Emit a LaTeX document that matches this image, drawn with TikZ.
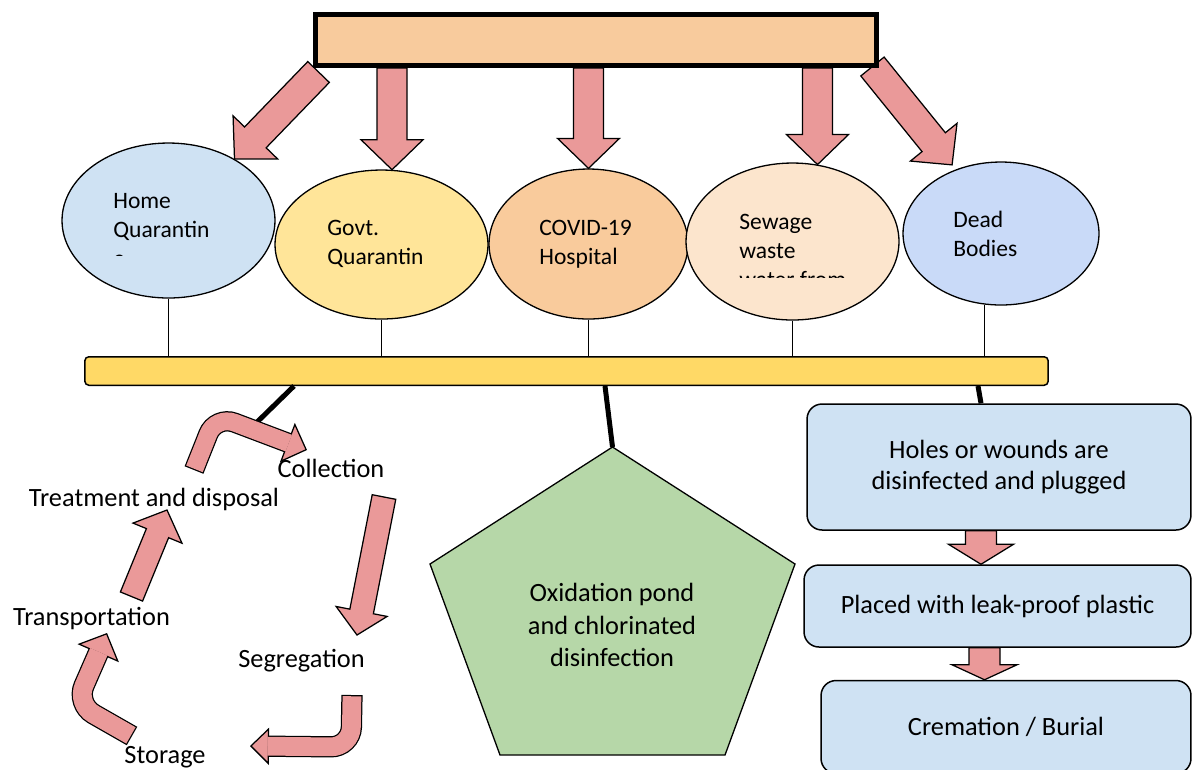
\documentclass[tikz,border=0pt]{standalone}
\usepackage{fontspec}
\setmainfont{Carlito}
\usetikzlibrary{arrows.meta, calc, shapes.geometric}

\definecolor{arrowpink}{HTML}{EA9999}
\definecolor{peach}{HTML}{F8CB9D}
\definecolor{homeblue}{HTML}{CFE2F3}
\definecolor{govtyellow}{HTML}{FFE599}
\definecolor{covidorange}{HTML}{F9CB9C}
\definecolor{sewagecream}{HTML}{FCE5CD}
\definecolor{deadblue}{HTML}{C9DAF8}
\definecolor{baryellow}{HTML}{FFD966}
\definecolor{pondgreen}{HTML}{B6D7A8}
\definecolor{boxblue}{HTML}{CFE2F3}

\pgfdeclarelayer{back}
\pgfsetlayers{back,main}

% straight block arrow: from, to, shaft half width, head half width, head length
\newcommand{\blockarrow}[5]{%
  \draw[line width=0.025cm, fill=arrowpink, line join=miter]
    let \p1=(#1), \p2=(#2), \n1={atan2(\y2-\y1,\x2-\x1)}, \n2={veclen(\x2-\x1,\y2-\y1)-#5} in
    ($(\p1)+(\n1+90:#3)$) -- ($(\p1)+(\n1:\n2)+(\n1+90:#3)$) -- ($(\p1)+(\n1:\n2)+(\n1+90:#4)$)
    -- (\p2) -- ($(\p1)+(\n1:\n2)+(\n1-90:#4)$) -- ($(\p1)+(\n1:\n2)+(\n1-90:#3)$)
    -- ($(\p1)+(\n1-90:#3)$) -- cycle;}

% bent block arrow: shaft width, head width, head length, path
\newcommand{\bentarrow}[4]{%
  \pgfmathsetlengthmacro{\fatout}{#1+0.025cm}%
  \pgfmathsetlengthmacro{\fatin}{#1-0.025cm}%
  \pgfmathsetlengthmacro{\fatcut}{#3-0.03cm}%
  \draw[line width=\fatout, -{Triangle[length=#3, width=#2, fill=arrowpink, line width=0.025cm]}] #4;
  \draw[line width=\fatin, arrowpink, shorten <=0.025cm, shorten >=\fatcut] #4;}

\begin{document}
\begin{tikzpicture}[x=0.02cm, y=-0.02cm,
        bubble/.style={ellipse, draw, line width=0.026cm, inner sep=0pt},
        bubbletext/.style={anchor=north west, inner sep=0pt, align=left, font=\fontsize{13.4}{16.6}\selectfont},
        stagebox/.style={rectangle, rounded corners=0.3cm, draw, line width=0.03cm, fill=boxblue, align=center, inner sep=0pt, font=\fontsize{15}{18.1}\selectfont},
        steptext/.style={anchor=base, inner sep=0pt, font=\fontsize{15}{18}\selectfont},
        thickline/.style={line width=0.1cm}
    ]

    \useasboundingbox (0,0) rectangle (1192,769);

    % Top box
    \node[draw, line width=0.1cm, fill=peach, minimum width=11.22cm, minimum height=1.02cm, inner sep=0pt] (topbox) at (596,40) {};

    \begin{pgfonlayer}{back}
        % Sources
        \node[bubble, fill=homeblue, minimum width=4.26cm, minimum height=3.1cm] (home) at (168.5,220.5) {};
        \node[bubble, fill=govtyellow, minimum width=4.26cm, minimum height=2.98cm] (govt) at (381.5,244.5) {};
        \node[bubble, fill=covidorange, minimum width=3.98cm, minimum height=3.0cm] (covid) at (588.5,244) {};
        \node[bubble, fill=sewagecream, minimum width=4.26cm, minimum height=3.14cm] (sewage) at (792.5,241.5) {};
        \node[bubble, fill=deadblue, minimum width=3.92cm, minimum height=2.86cm] (dead) at (1001,233.5) {};

        % Arrows from the top box
        \blockarrow{$(topbox.south west)+(5.5,4)$}{home.43}{0.3cm}{0.62cm}{0.6cm}
        \blockarrow{topbox.south -| govt.82}{govt.82}{0.3cm}{0.62cm}{0.6cm}
        \blockarrow{topbox.south -| covid.north}{covid.north}{0.3cm}{0.62cm}{0.6cm}
        \blockarrow{topbox.south -| sewage.72}{sewage.72}{0.3cm}{0.62cm}{0.6cm}
        \blockarrow{$(topbox.south east)+(-6.5,-1.5)$}{$(dead.128)+(0,-6)$}{0.3cm}{0.6cm}{0.58cm}
    \end{pgfonlayer}

    % Source labels
    \begin{scope}
        \clip (100,180) rectangle (260,255.5);
        \node[bubbletext] (hometxt) at (113,192.8) {Home\\Quarantin\\e};
    \end{scope}
    \node[bubbletext] (govttxt) at (327,219.8) {Govt.\\Quarantin};
    \node[bubbletext] (covidtxt) at (539,219.8) {COVID-19\\Hospital};
    \begin{scope}
        \clip (720,190) rectangle (890,277.5);
        \node[bubbletext] (sewagetxt) at (739,213.8) {Sewage\\waste\\water from};
    \end{scope}
    \node[bubbletext] (deadtxt) at (953,210.7) {Dead\\Bodies};

    % Collecting bar
    \node[draw, line width=0.03cm, fill=baryellow, rounded corners=0.08cm, minimum width=19.27cm, minimum height=0.57cm, inner sep=0pt] (bar) at (566.5,371) {};
    \foreach \src in {home, govt, covid, sewage}
        \draw[line width=0.026cm] (\src.south) -- (\src.south |- bar.north);
    \draw[line width=0.026cm] (dead.257) -- (dead.257 |- bar.north);

    % Oxidation pond
    \coordinate (pondtop) at (612.5,447);
    \draw[line width=0.026cm, fill=pondgreen] (pondtop) -- (430,564) -- (500,755) -- (725,755) -- (795,564) -- cycle;
    \node[align=center, inner sep=0pt, font=\fontsize{15}{18.7}\selectfont] (pond) at (612,625) {Oxidation pond\\and chlorinated\\disinfection};
    \draw[thickline] (bar.south -| 605,0) -- (pondtop);

    % Dead bodies steps
    \node[stagebox, minimum width=7.68cm, minimum height=2.52cm] (box1) at (999,467) {Holes or wounds are\\disinfected and plugged};
    \node[stagebox, minimum width=7.74cm, minimum height=1.64cm] (box2) at (997.5,606) {Placed with leak-proof plastic};
    \node[stagebox, minimum width=7.4cm, minimum height=1.86cm] (box3) at (1006,727) {Cremation / Burial};
    \draw[thickline] (bar.south -| 978,0) -- (box1.north -| 981,0);
    \blockarrow{box1.south -| 981,0}{box2.north -| 981,0}{0.31cm}{0.65cm}{0.4cm}
    \blockarrow{box2.south -| 984.5,0}{box3.north -| 984.5,0}{0.31cm}{0.65cm}{0.3cm}

    % Waste cycle
    \coordinate (treattop) at (252,427);
    \draw[thickline] (bar.south -| 294,0) -- (treattop);
    \coordinate (a1) at (194,470); \coordinate (a2) at (215.7,415.5); \coordinate (a3) at (307,450);
    \coordinate (b1) at (384,497); \coordinate (b2) at (357,635);
    \coordinate (c1) at (352,695); \coordinate (c2) at (351,747); \coordinate (c3) at (250,746);
    \coordinate (d1) at (132,736); \coordinate (d2) at (76,704); \coordinate (d3) at (107,633);
    \coordinate (e1) at (131.5,596.5); \coordinate (e2) at (167,510);
    \bentarrow{0.38cm}{0.84cm}{0.42cm}{(a1) [rounded corners=0.4cm] -- (a2) -- (a3)}
    \blockarrow{b1}{b2}{0.24cm}{0.52cm}{0.48cm}
    \bentarrow{0.4cm}{0.74cm}{0.38cm}{(c1) [rounded corners=0.4cm] -- (c2) -- (c3)}
    \bentarrow{0.4cm}{0.9cm}{0.44cm}{(d1) [rounded corners=0.4cm] -- (d2) -- (d3)}
    \blockarrow{e1}{e2}{0.24cm}{0.53cm}{0.5cm}

    \node[steptext] (collect) at (331,477) {Collection};
    \node[steptext] (treat) at (154,506) {Treatment and disposal};
    \node[steptext] (transport) at (91.5,625) {Transportation};
    \node[steptext] (segreg) at (301.5,667) {Segregation};
    \node[steptext] (storage) at (165,763) {Storage};

\end{tikzpicture}
\end{document}
